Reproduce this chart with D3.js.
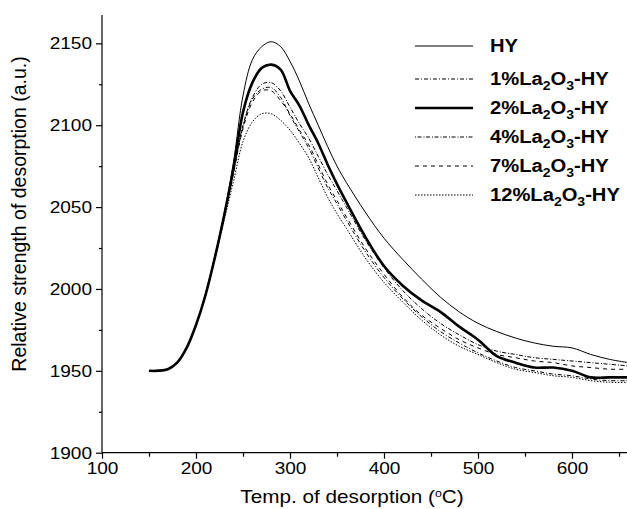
<!DOCTYPE html>
<html>
<head>
<meta charset="utf-8">
<script src="https://cdn.jsdelivr.net/npm/d3@7"></script>
<style>
  body { margin: 0; background: #fff; }
  text { font-family: "Liberation Sans", Arial, sans-serif; fill: #000; }
</style>
</head>
<body>
<div id="chart"></div>
<script>
// temperatures (°C) shared by all curves
const temps = [150,160,170,180,190,200,210,220,230,240,250,260,270,280,290,300,310,320,330,340,350,360,380,400,420,440,460,480,500,520,540,560,580,600,620,640,660];

const hy = [1950,1950.5,1951,1955,1964,1978,1997,2020,2046,2078,2118,2140,2148,2151,2148,2139,2127,2113,2100,2087,2075,2065,2047,2031,2018,2006,1995,1986,1979,1974,1970,1967,1965,1964,1960,1957,1955];
const la1 = [1950,1950,1951,1955,1964,1978,1996,2019,2044,2072,2099,2116,2122,2123,2117,2106,2096,2086,2074,2062,2052,2042,2023,2007,1994,1983,1974,1967,1961,1956,1952,1950,1948,1947,1945,1944,1944];
const la2 = [1950,1950,1951,1955,1964,1978,1996,2019,2045,2074,2108,2126,2135,2137,2134,2121,2112,2100,2089,2076,2064,2053,2032,2014,2002,1993,1986,1977,1969,1959,1955,1952,1952,1950,1946,1946,1946];
const la4 = [1950,1950,1951,1955,1964,1978,1996,2019,2045,2072,2100,2117,2125,2126,2121,2111,2101,2092,2081,2070,2060,2050,2030,2013,1999,1988,1979,1972,1966,1962,1960,1958,1957,1956,1955,1954,1953];
const la7 = [1950,1950,1951,1955,1964,1978,1996,2019,2044,2071,2098,2114,2121,2121,2115,2107,2097,2088,2076,2064,2054,2044,2025,2009,1995,1984,1976,1969,1964,1960,1958,1956,1955,1953,1952,1951,1951];
const la12 = [1950,1950,1951,1955,1964,1978,1996,2018,2042,2066,2090,2102,2107,2107,2103,2097,2089,2080,2068,2056,2046,2037,2019,2004,1992,1981,1972,1965,1960,1955,1951,1949,1947,1946,1944,1943,1943];

const xTicks = [100,200,300,400,500,600];
const yTicks = [1900,1950,2000,2050,2100,2150];

const series = [
    { pct: "", values: hy, width: 1, dash: null },
    { pct: "1%", values: la1, width: 1, dash: "4,2,1,2" },
    { pct: "2%", values: la2, width: 2.6, dash: null },
    { pct: "4%", values: la4, width: 1, dash: "1,1.5,4,2" },
    { pct: "7%", values: la7, width: 1, dash: "4,4" },
    { pct: "12%", values: la12, width: 1, dash: "1.5,1.5" }
];

const width = 627, height = 509;
const plotLeft = 102, plotRight = 627, plotTop = 15, plotBottom = 452.7;
const stretch = 1.12; // text in the original is a bit wide

const svg = d3.select("#chart").append("svg")
    .attr("width", width)
    .attr("height", height);

const x = d3.scaleLinear().domain([100, 658.5]).range([plotLeft, plotRight]);
const y = d3.scaleLinear().domain([1900, 2167.3]).range([plotBottom, plotTop]);

svg.append("defs").append("clipPath").attr("id", "clip")
    .append("rect")
    .attr("x", plotLeft).attr("y", 0)
    .attr("width", plotRight - plotLeft).attr("height", plotBottom);

// curves
const line = d3.line()
    .x((d, i) => x(temps[i]))
    .y(d => y(d))
    .curve(d3.curveCatmullRom);

svg.append("g").attr("clip-path", "url(#clip)")
    .selectAll("path")
    .data(series)
    .join("path")
    .attr("d", d => line(d.values))
    .attr("fill", "none")
    .attr("stroke", "#000")
    .attr("stroke-width", d => d.width)
    .attr("stroke-dasharray", d => d.dash);

// x axis
const xAxis = svg.append("g").attr("transform", `translate(0,${plotBottom})`);
xAxis.call(d3.axisBottom(x).tickValues(d3.range(150, 660, 100)).tickSize(4).tickFormat(""));
xAxis.call(g => g.append("g").call(d3.axisBottom(x).tickValues(xTicks).tickSize(6).tickPadding(3).tickFormat(d3.format("d"))));
xAxis.selectAll(".domain").remove();
xAxis.append("line").attr("x1", plotLeft).attr("x2", plotRight).attr("stroke", "#000").attr("stroke-width", 1.2);

// y axis
const yAxis = svg.append("g").attr("transform", `translate(${plotLeft},0)`);
yAxis.call(d3.axisLeft(y).tickValues(d3.range(1925, 2170, 50)).tickSize(3).tickFormat(""));
yAxis.call(g => g.append("g").call(d3.axisLeft(y).tickValues(yTicks).tickSize(6).tickPadding(4).tickFormat(d3.format("d"))));
yAxis.selectAll(".domain").remove();
yAxis.append("line").attr("y1", plotTop).attr("y2", plotBottom).attr("stroke", "#000").attr("stroke-width", 1.2);

svg.selectAll(".tick line").attr("stroke", "#000").attr("stroke-width", 1.2);
svg.selectAll(".tick text")
    .style("font-family", "'Liberation Sans', Arial, sans-serif")
    .style("font-size", "17px")
    .attr("fill", "#000");

// axis titles
const xTitle = svg.append("text")
    .attr("class", "wide")
    .attr("x", 352).attr("y", 503)
    .attr("text-anchor", "middle")
    .style("font-size", "18.5px")
    .text("Temp. of desorption (");
xTitle.append("tspan").attr("dy", -6).style("font-size", "11px").text("o");
xTitle.append("tspan").attr("dy", 6).text("C)");

svg.append("text")
    .attr("transform", "translate(26,214) rotate(-90)")
    .attr("text-anchor", "middle")
    .style("font-size", "19.5px")
    .text("Relative strength of desorption (a.u.)");

// legend
const legendY = i => 46 + i * 29 + (i > 0 ? 4 : 0);
const legend = svg.append("g");
series.forEach((s, i) => {
    const ly = legendY(i);
    legend.append("line")
        .attr("x1", 415).attr("x2", 473)
        .attr("y1", ly).attr("y2", ly)
        .attr("stroke", "#000")
        .attr("stroke-width", s.width)
        .attr("stroke-dasharray", s.dash);
    const t = legend.append("text")
        .attr("class", "wide")
        .attr("x", 490).attr("y", ly + 6)
        .style("font-size", "18px")
        .style("font-weight", "bold");
    if (s.pct === "") {
        t.text("HY");
    } else {
        t.append("tspan").text(s.pct + "La");
        t.append("tspan").attr("dy", 5).style("font-size", "12.5px").text("2");
        t.append("tspan").attr("dy", -5).text("O");
        t.append("tspan").attr("dy", 5).style("font-size", "12.5px").text("3");
        t.append("tspan").attr("dy", -5).text("-HY");
    }
});

// widen horizontal text to match the original's proportions
svg.selectAll(".tick text, text.wide").each(function () {
    const w = this.getComputedTextLength();
    d3.select(this)
        .attr("textLength", w * stretch)
        .attr("lengthAdjust", "spacingAndGlyphs");
});
</script>
</body>
</html>
